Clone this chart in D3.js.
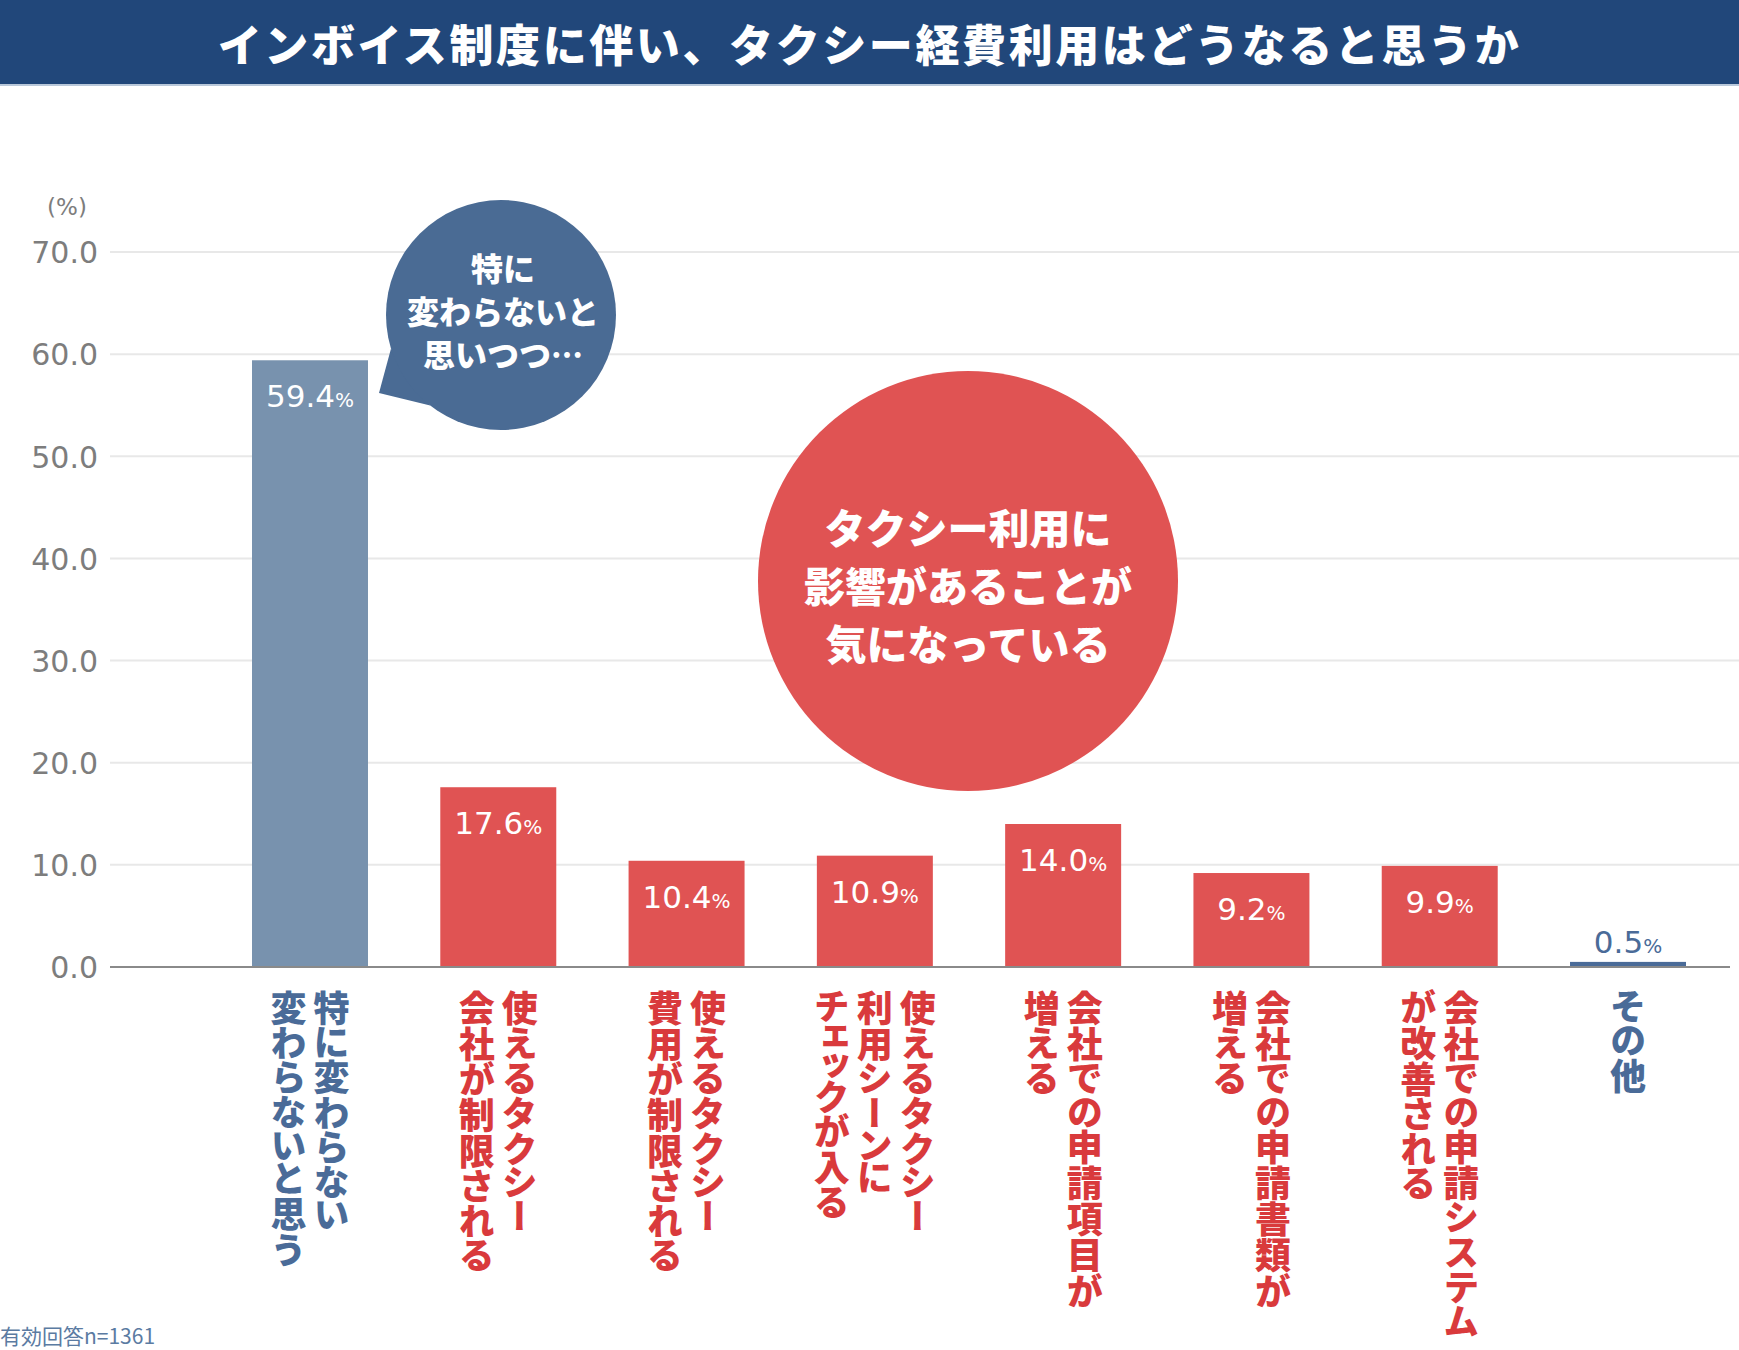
<!DOCTYPE html>
<html lang="ja">
<head>
<meta charset="utf-8">
<script src="https://cdn.jsdelivr.net/npm/d3@7"></script>
<style>
  html, body { margin: 0; padding: 0; background: #fff; }
  svg { display: block; }
  .vlabel { writing-mode: vertical-rl; font-feature-settings: "vpal"; }
</style>
</head>
<body>
<div id="chart"></div>
<script>
// ── データ ────────────────────────────────────────────────
const title = 'インボイス制度に伴い、タクシー経費利用はどうなると思うか';
// 縦書きラベル(1要素 = 1列、右の列から)
const categories = [
  ['特に変わらない', '変わらないと思う'],
  ['使えるタクシー', '会社が制限される'],
  ['使えるタクシー', '費用が制限される'],
  ['使えるタクシー', '利用シーンに', 'チェックが入る'],
  ['会社での申請項目が', '増える'],
  ['会社での申請書類が', '増える'],
  ['会社での申請システム', 'が改善される'],
  ['その他'],
];
const values = [59.4, 17.6, 10.4, 10.9, 14.0, 9.2, 9.9, 0.5];
const groups = ['same', 'impact', 'impact', 'impact', 'impact', 'impact', 'impact', 'other'];
const yTicks = [0, 10, 20, 30, 40, 50, 60, 70];
const bubbleBlue = ['特に', '変わらないと', '思いつつ…'];
const bubbleRed = ['タクシー利用に', '影響があることが', '気になっている'];
const footnote = '有効回答n=1361';

// ── 見た目 ────────────────────────────────────────────────
const W = 1739, H = 1350;
const HEADER_H = 84;
const X0 = 110;                 // グリッド線の左端
const BAR_L = 252, BAR_R = 1686; // 最初の棒の左端〜最後の棒の右端
const Y0 = 967, Y70 = 252;
const JP = '"Noto Sans CJK JP", "Noto Sans", sans-serif';
const NUM = '"DejaVu Sans", sans-serif';
const barColor = { same: '#7892ae', impact: '#e05353', other: '#4a6b98' };
const labelColor = { same: '#4a6b98', impact: '#d93a3c', other: '#4a6b98' };

const svg = d3.select('#chart').append('svg')
  .attr('width', W).attr('height', H).attr('viewBox', `0 0 ${W} ${H}`);

// ヘッダー
svg.append('rect').attr('x', 0).attr('y', 0).attr('width', W).attr('height', HEADER_H).attr('fill', '#21477a');
svg.append('rect').attr('x', 0).attr('y', HEADER_H).attr('width', W).attr('height', 2).attr('fill', '#b9c8da');
svg.append('text').attr('x', W / 2).attr('y', HEADER_H / 2 + 1)
  .attr('text-anchor', 'middle').attr('dominant-baseline', 'central')
  .attr('font-family', JP).attr('font-weight', 900).attr('font-size', 44)
  .attr('letter-spacing', 2.6).attr('fill', '#fff').text(title);

// スケール
const x = d3.scaleBand().domain(d3.range(values.length))
  .range([BAR_L, BAR_R]).paddingInner(0.384).paddingOuter(0);
const y = d3.scaleLinear().domain([0, 70]).range([Y0, Y70]);

// グリッドと目盛り
const grid = svg.append('g');
grid.selectAll('line').data(yTicks.filter(t => t > 0)).join('line')
  .attr('x1', X0).attr('x2', W).attr('y1', d => y(d)).attr('y2', d => y(d))
  .attr('stroke', '#e8e8e8').attr('stroke-width', 2);

const yAxis = svg.append('g').attr('transform', `translate(${X0 - 12},0)`)
  .call(d3.axisLeft(y).tickValues(yTicks).tickFormat(d3.format('.1f')).tickSize(0).tickPadding(0));
yAxis.select('.domain').remove();
yAxis.selectAll('text').attr('font-family', NUM).attr('font-size', 30)
  .attr('fill', '#7d7d7d').attr('dy', '0.36em');

svg.append('text').attr('x', 67).attr('y', 215).attr('text-anchor', 'middle')
  .attr('font-family', NUM).attr('font-size', 23).attr('fill', '#7d7d7d').text('(%)');

// 吹き出し(青)
const blue = { cx: 501, cy: 315, r: 115 };
const a1 = 128 * Math.PI / 180, a2 = 163 * Math.PI / 180;
svg.append('path').attr('fill', '#4a6b94')
  .attr('d', `M ${blue.cx + blue.r * Math.cos(a1)} ${blue.cy + blue.r * Math.sin(a1)}
              L 379 393
              L ${blue.cx + blue.r * Math.cos(a2)} ${blue.cy + blue.r * Math.sin(a2)} Z`);
svg.append('circle').attr('cx', blue.cx).attr('cy', blue.cy).attr('r', blue.r).attr('fill', '#4a6b94');
svg.append('g').selectAll('text').data(bubbleBlue).join('text')
  .attr('x', blue.cx + 2).attr('y', (d, i) => 267 + i * 43)
  .attr('text-anchor', 'middle').attr('dominant-baseline', 'central')
  .attr('font-family', JP).attr('font-weight', 900).attr('font-size', 32)
  .attr('fill', '#fff').text(d => d);

// 棒
svg.append('g').selectAll('rect').data(values).join('rect')
  .attr('x', (d, i) => x(i)).attr('width', x.bandwidth())
  .attr('y', d => y(d)).attr('height', d => Y0 - y(d))
  .attr('fill', (d, i) => barColor[groups[i]]);

// 基線
svg.append('line').attr('x1', X0).attr('x2', 1730).attr('y1', Y0).attr('y2', Y0)
  .attr('stroke', '#8a8a8a').attr('stroke-width', 2);

// 値ラベル(小さい棒は上に)
const vals = svg.append('g').selectAll('text').data(values).join('text')
  .attr('x', (d, i) => x(i) + x.bandwidth() / 2)
  .attr('y', d => (Y0 - y(d) > 50 ? y(d) + 47 : y(d) - 9))
  .attr('text-anchor', 'middle').attr('font-family', NUM)
  .attr('fill', (d, i) => (Y0 - y(d) > 50 ? '#fff' : labelColor[groups[i]]));
vals.append('tspan').attr('font-size', 31).text(d => d.toFixed(1));
vals.append('tspan').attr('font-size', 20).text('%');

// 吹き出し(赤)
const red = { cx: 968, cy: 581, r: 210 };
svg.append('circle').attr('cx', red.cx).attr('cy', red.cy).attr('r', red.r).attr('fill', '#e05353');
svg.append('g').selectAll('text').data(bubbleRed).join('text')
  .attr('x', red.cx).attr('y', (d, i) => 526 + i * 58)
  .attr('text-anchor', 'middle').attr('dominant-baseline', 'central')
  .attr('font-family', JP).attr('font-weight', 900).attr('font-size', 41)
  .attr('fill', '#fff').text(d => d);

// 縦書きカテゴリラベル
const COL_GAP = 43;
const cat = svg.append('g').selectAll('g').data(categories).join('g');
cat.each(function (lines, i) {
  const cx = x(i) + x.bandwidth() / 2;
  const n = lines.length;
  d3.select(this).selectAll('text').data(lines).join('text')
    .attr('class', 'vlabel')
    .attr('x', (d, j) => cx + ((n - 1) / 2 - j) * COL_GAP)
    .attr('y', 990)
    .attr('font-family', JP).attr('font-weight', 900).attr('font-size', 36)
    .attr('fill', labelColor[groups[i]]).text(d => d);
});

// 注記
svg.append('text').attr('x', 0).attr('y', 1344)
  .attr('font-family', JP).attr('font-size', 21).attr('fill', '#5b7ba2').text(footnote);
</script>
</body>
</html>
